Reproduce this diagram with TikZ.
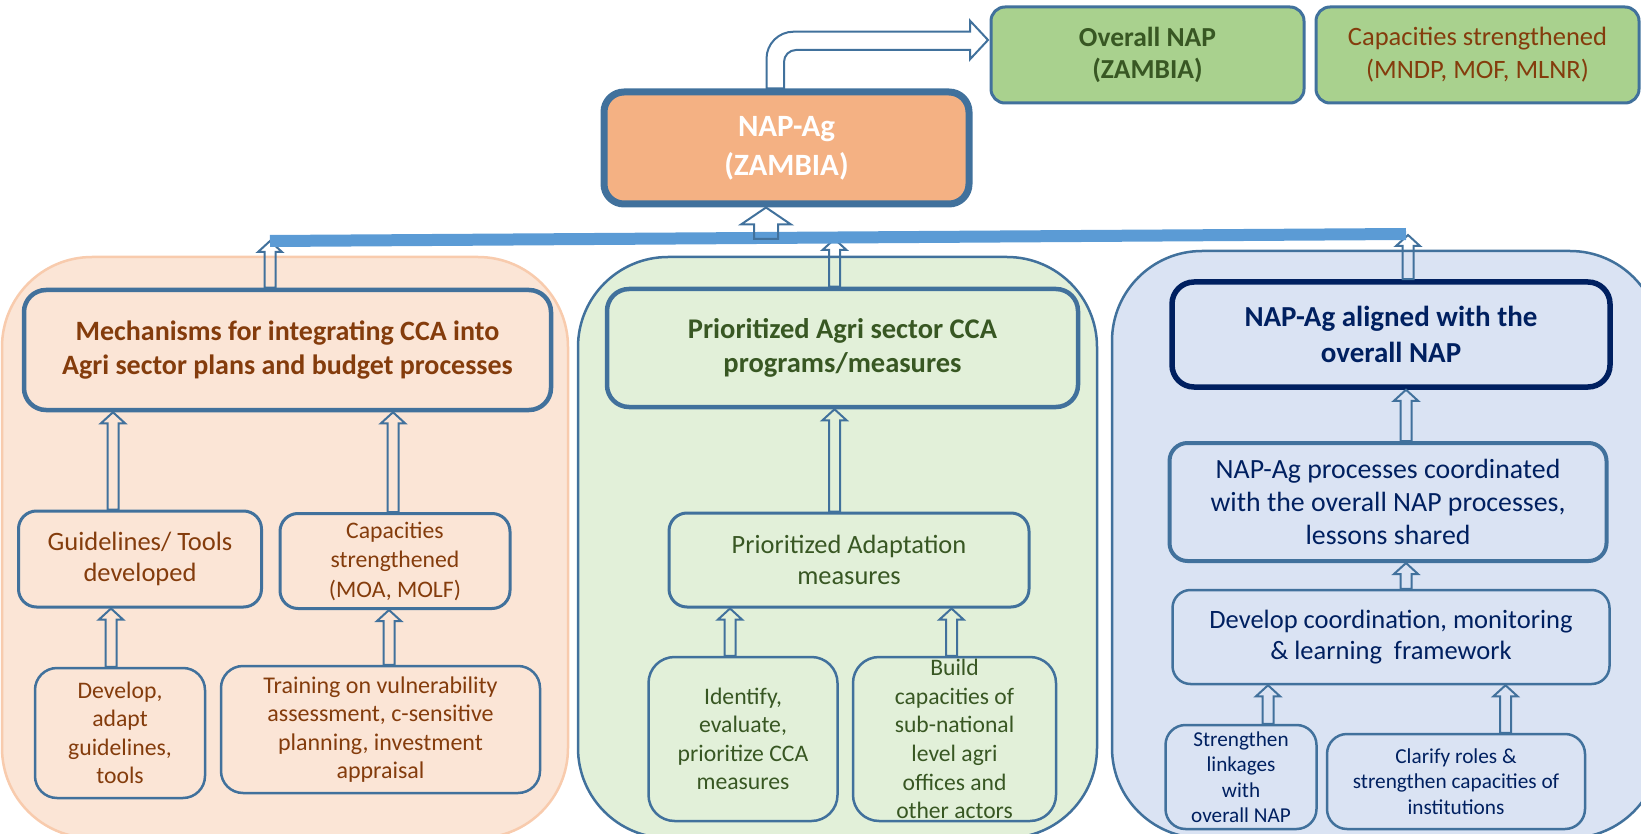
\documentclass[tikz,border=0pt]{standalone}
\usepackage{fontspec}
\setmainfont{Carlito}
\usetikzlibrary{calc}

\definecolor{edgeblue}{HTML}{41719C}
\definecolor{busblue}{HTML}{5B9BD5}
\definecolor{peachfill}{HTML}{FBE5D6}
\definecolor{peachline}{HTML}{F8CBAD}
\definecolor{napfill}{HTML}{F4B183}
\definecolor{leaffill}{HTML}{A9D18E}
\definecolor{mintfill}{HTML}{E2F0D9}
\definecolor{skyfill}{HTML}{DAE3F3}
\definecolor{brownT}{HTML}{843C0C}
\definecolor{greenT}{HTML}{385723}
\definecolor{navyT}{HTML}{002060}

\tikzset{every picture/.style={line width=0.75pt}}
\tikzset{
  box/.style={draw=edgeblue, line width=3pt, rounded corners=18pt, align=center, inner sep=0pt},
  headbox/.style={box, line width=4.5pt, rounded corners=22pt},
  leafbox/.style={box, fill=leaffill, rounded corners=14pt},
  panel/.style={line width=2.5pt, rounded corners=90pt},
  blockarr/.style={draw=edgeblue, line width=2pt, line join=miter},
  busline/.style={draw=busblue, line width=12pt},
  fs/.style n args={2}{font={\fontsize{#1}{#2}\selectfont}},
}

% hollow up arrow between two points
\newcommand{\blockarrow}[2]{%
  \draw[blockarr] let \p1=#1, \p2=#2 in
    (\x1-5.5pt,\y1) -- (\x1-5.5pt,\y2-11pt) -- (\x1-12pt,\y2-11pt) -- (\x1,\y2)
    -- (\x1+12pt,\y2-11pt) -- (\x1+5.5pt,\y2-11pt) -- (\x1+5.5pt,\y1) -- cycle;}

\begin{document}
\begin{tikzpicture}[x=1pt,y=-1pt]
  \useasboundingbox (0,0) rectangle (1641,834);
  \clip (0,0) rectangle (1641,834);

  %Panels
  \draw[panel, draw=peachline, fill=peachfill] (2,257) rectangle (568,838);
  \draw[panel, draw=edgeblue, fill=mintfill] (578,257) rectangle (1097,838);
  \draw[panel, draw=edgeblue, fill=skyfill] (1112,251) rectangle (1660,838);

  % Top row
  \node[leafbox, minimum width=313, minimum height=96, text=greenT, fs={27.5}{32}] (overall) at (1147.5,55) {\bfseries Overall NAP\\\bfseries (ZAMBIA)};
  \node[leafbox, minimum width=323, minimum height=96, text=brownT, fs={26.5}{33}] (capmn) at (1477.5,55) {Capacities strengthened\\(MNDP, MOF, MLNR)};
  \node[box, line width=7pt, rounded corners=20pt, fill=napfill, minimum width=365, minimum height=112, text=white, fs={31}{39}] (napag) at (786.5,148) {\bfseries NAP-Ag\\\bfseries (ZAMBIA)};

  % Left panel
  \node[headbox, minimum width=527, minimum height=120, text=brownT, fs={28}{34}] (mech) at (287.5,350) {\bfseries Mechanisms for integrating CCA into\\\bfseries Agri sector plans and budget processes};
  \node[box, minimum width=243, minimum height=96, text=brownT, fs={26.5}{31}] (guide) at (140,559) {Guidelines/ Tools\\developed};
  \node[box, minimum width=230, minimum height=95, text=brownT, fs={23.7}{29.5}] (capmo) at (395,561) {Capacities\\strengthened\\(MOA, MOLF)};
  \node[box, line width=2.5pt, rounded corners=22pt, minimum width=170, minimum height=130, text=brownT, fs={23.7}{28.4}] (develop) at (120,733) {Develop,\\adapt\\guidelines,\\tools};
  \node[box, line width=2.5pt, rounded corners=22pt, minimum width=319, minimum height=127, text=brownT, fs={24}{28.4}] (train) at (380.5,729.5) {Training on vulnerability\\assessment, c-sensitive\\planning, investment\\appraisal};

  % Middle panel
  \node[headbox, minimum width=471, minimum height=118, text=greenT, fs={28.5}{34}] (agri) at (842.5,348) {\bfseries Prioritized Agri sector CCA\\\bfseries programs/measures};
  \node[box, minimum width=360, minimum height=94, text=greenT, fs={26.4}{31.8}] (adapt) at (849,560) {Prioritized Adaptation\\measures};
  \node[box, line width=2.5pt, rounded corners=26pt, minimum width=189, minimum height=164, text=greenT, fs={23.7}{28.4}] (identify) at (743,739) {Identify,\\evaluate,\\prioritize CCA\\measures};
  \node[box, line width=2.5pt, rounded corners=26pt, minimum width=203, minimum height=164, text=greenT, fs={23.6}{28.6}] (build) at (954.5,739) {Build\\capacities of\\sub-national\\level agri\\offices and\\other actors};

  % Right panel
  \node[headbox, draw=navyT, line width=5.5pt, minimum width=438, minimum height=105, text=navyT, fs={29}{36}] (aligned) at (1391,334.5) {\bfseries NAP-Ag aligned with the\\\bfseries overall NAP};
  \node[box, line width=4pt, minimum width=437, minimum height=118, text=navyT, fs={27.8}{33}] (process) at (1388,502) {NAP-Ag processes coordinated\\with the overall NAP processes,\\lessons shared};
  \node[box, line width=2.5pt, minimum width=437, minimum height=94, text=navyT, fs={26.5}{31.4}] (coord) at (1391,637) {Develop coordination, monitoring\\\& learning\ \ framework};
  \node[box, line width=2.5pt, rounded corners=20pt, minimum width=151, minimum height=104, text=navyT, fs={21.2}{25.5}] (linkage) at (1241,777) {Strengthen\\linkages\\with\\overall NAP};
  \node[box, line width=2.5pt, rounded corners=20pt, minimum width=258, minimum height=95, text=navyT, fs={21.3}{25.6}] (clarify) at (1456,781.5) {Clarify roles \&\\strengthen capacities of\\institutions};

  % Arrows inside panels
  \blockarrow{(guide.north -| 113,0)}{(mech.south -| 113,0)}
  \blockarrow{(capmo.north -| 393,0)}{(mech.south -| 393,0)}
  \blockarrow{(develop.north -| 111,0)}{(guide.south -| 111,0)}
  \blockarrow{(train.north -| 389,0)}{(capmo.south -| 389,0)}
  \blockarrow{(adapt.north -| 834.5,0)}{(agri.south -| 834.5,0)}
  \blockarrow{(identify.north -| 730,0)}{(adapt.south -| 730,0)}
  \blockarrow{(build.north -| 951.5,0)}{(adapt.south -| 951.5,0)}
  \blockarrow{(process.north -| 1406,0)}{(aligned.south -| 1406,0)}
  \blockarrow{(coord.north -| 1406,0)}{(process.south -| 1406,0)}
  \blockarrow{(linkage.north -| 1268,0)}{(coord.south -| 1268,0)}
  \blockarrow{(clarify.north -| 1505.5,0)}{(coord.south -| 1505.5,0)}

  % Bus line and arrows up to it
  \coordinate (busL) at (270,241);
  \coordinate (busR) at (1406,234);
  \coordinate (busA) at (270,241);
  \coordinate (busB) at (834.5,239);
  \coordinate (busC) at (1408,235);
  \coordinate (busN) at (766,239);
  \blockarrow{(mech.north -| busA)}{(busA)}
  \blockarrow{(agri.north -| busB)}{(busB)}
  \blockarrow{(aligned.north -| busC)}{(busC)}
  \draw[busline] (busL) -- (busR);

  % Big arrow up to NAP-Ag
  \draw[blockarr] let \p1=(busN), \p2=(napag.south -| busN) in
    (\x1-12pt,\y1) -- (\x1-12pt,\y2-17pt) -- (\x1-25pt,\y2-17pt) -- (\x1,\y2)
    -- (\x1+25pt,\y2-17pt) -- (\x1+12pt,\y2-17pt) -- (\x1+12pt,\y1) -- cycle;

  % Bent arrow to overall NAP
  \draw[blockarr] let \p1=(napag.north), \p2=(overall.west) in
    (\x1-20pt,\y1) [rounded corners=27pt] -- (\x1-20pt,\y2+23.3pt) [sharp corners] -- (\x2-19.5pt,\y2+23.3pt)
    -- (\x2-19.5pt,\y2+34.3pt) -- (\x2-1.5pt,\y2+15pt) -- (\x2-19.5pt,\y2-4.3pt)
    -- (\x2-19.5pt,\y2+5pt) [rounded corners=12pt] -- (\x1-2.5pt,\y2+5pt) [sharp corners] -- (\x1-2.5pt,\y1) -- cycle;

\end{tikzpicture}
\end{document}
